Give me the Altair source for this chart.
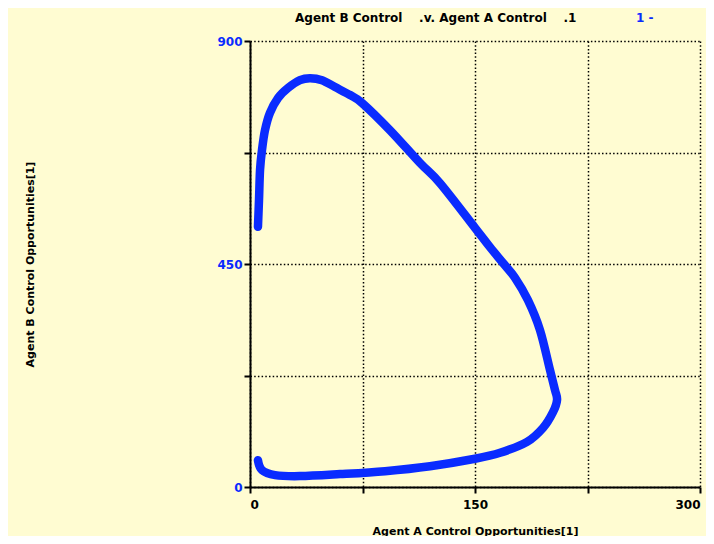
import altair as alt
import pandas as pd

# Trajectory (Agent A control opp. vs Agent B control opp.)
agent_a = [5.3, 6.0, 6.7, 8.0, 10.0, 13.3, 18.7, 25.3, 33.3, 40.0, 48.0, 56.7, 66.7, 74.7,
           93.3, 113.3, 126.7, 150.0, 160.0, 168.7, 176.7, 185.3, 193.3, 200.0, 203.3, 204.7,
           202.0, 195.3, 184.7, 166.7, 150.0, 120.0, 90.0, 60.0, 33.3, 16.7, 8.0, 5.3]
agent_b = [525, 579, 640, 680, 720, 755, 785, 805, 821, 825, 821, 807, 791, 775,
           720, 654, 613, 523, 484, 452, 422, 377, 317, 236, 196, 176,
           151, 119, 91, 69, 57, 42, 32, 26, 22, 24, 34, 54]

x_ticks = [0, 75, 150, 225, 300]
y_ticks = [0, 225, 450, 675, 900]

title_text = "Agent B Control\u00a0\u00a0\u00a0 .v. Agent A Control\u00a0\u00a0\u00a0 .1"
run_label = "1 -"

df = pd.DataFrame({"a": agent_a, "b": agent_b, "step": list(range(len(agent_a)))})
one = pd.DataFrame({"k": [0]})

BG = "#FFFCD2"
BLUE = "#0A2BFF"
FONT = "DejaVu Sans"

line = alt.Chart(df).mark_line(
    color=BLUE, strokeWidth=8.5, strokeCap="round", strokeJoin="round",
    interpolate="cardinal", clip=False
).encode(
    x=alt.X("a:Q", scale=alt.Scale(domain=[0, 300], nice=False),
            axis=alt.Axis(values=x_ticks, title="Agent A Control Opportunities[1]",
                          labelExpr="datum.value % 150 == 0 ? datum.label : ''",
                          labelColor="black", labelPadding=6,
                          titleY=44, titleBaseline="middle")),
    y=alt.Y("b:Q", scale=alt.Scale(domain=[0, 900], nice=False),
            axis=alt.Axis(values=y_ticks, title="Agent B Control Opportunities[1]",
                          labelExpr="datum.value % 450 == 0 ? datum.label : ''",
                          labelColor=BLUE, titleX=-220, titleBaseline="middle")),
    order="step:Q",
)

title_black = alt.Chart(one).mark_text(
    text=title_text, font=FONT, fontSize=12,
    fontWeight="bold", color="black", align="left", baseline="middle"
).encode(x=alt.value(45), y=alt.value(-23))

title_blue = alt.Chart(one).mark_text(
    text=run_label, font=FONT, fontSize=12, fontWeight="bold", color=BLUE,
    align="left", baseline="middle"
).encode(x=alt.value(386), y=alt.value(-23))

chart = alt.layer(line, title_black, title_blue).properties(
    width=450, height=446,
    autosize=alt.AutoSizeParams(type="none"),
    padding={"left": 242, "top": 33, "right": 6, "bottom": 49},
    background=BG,
).configure_view(
    stroke=None, fill=BG
).configure_axis(
    grid=True, gridColor="black", gridDash=[1.5, 2.2], gridWidth=1.5, gridOpacity=1,
    domainColor="black", domainWidth=2, tickColor="black", tickWidth=2, tickSize=6,
    labelFont=FONT, labelFontSize=12, labelFontWeight="bold", titleFont=FONT,
    titleFontSize=11, titleFontWeight="bold", titleColor="black",
)

chart.save("out.html", embed_options={"renderer": "svg", "actions": False})
